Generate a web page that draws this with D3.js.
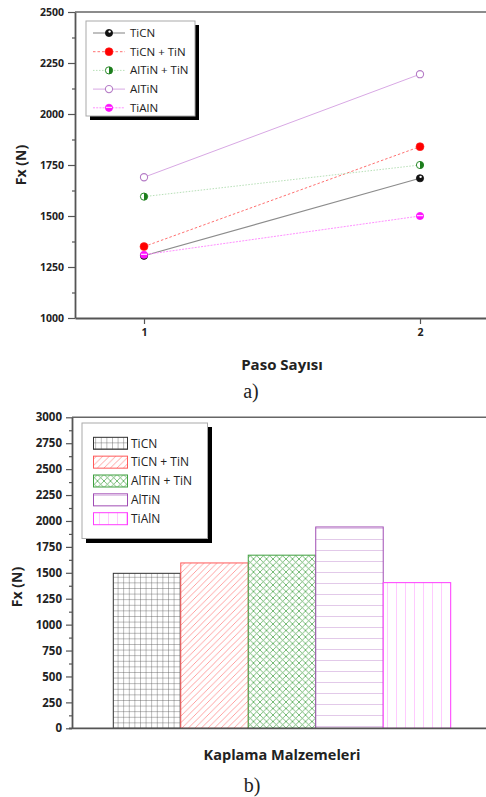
<!DOCTYPE html>
<html>
<head>
<meta charset="utf-8">
<script src="https://cdn.jsdelivr.net/npm/d3@7"></script>
<style>
  html, body { margin: 0; padding: 0; background: #fff; }
  svg { display: block; }
  text { font-family: "Open Sans", "Noto Sans", sans-serif; fill: #222; }
</style>
</head>
<body>
<svg id="fig" width="486" height="797"></svg>
<script>
// ---- data ----
const coatings = ["TiCN", "TiCN + TiN", "AlTiN + TiN", "AlTiN", "TiAlN"];
const passes = [1, 2];
const fxPass1 = [1305, 1350, 1595, 1690, 1310];
const fxPass2 = [1685, 1840, 1750, 2195, 1500];
const fxAverage = [1495, 1595, 1670, 1942, 1405];
const yTicksA = [1000, 1250, 1500, 1750, 2000, 2250, 2500];
const yTicksB = [0, 250, 500, 750, 1000, 1250, 1500, 1750, 2000, 2250, 2500, 2750, 3000];

// ---- styles ----
const lineStyle = [
  { stroke: "#8c8c8c", dash: null, width: 1.1 },
  { stroke: "#ff7070", dash: "2.5,2", width: 1 },
  { stroke: "#b8e0b8", dash: "1.5,1.5", width: 1 },
  { stroke: "#d8a8e4", dash: null, width: 1 },
  { stroke: "#ff90ff", dash: "2,1.2", width: 1 }
];
const barStyle = [
  { edge: "#333", ink: "#555", kind: "grid", step: 5.6 },
  { edge: "#ff5a5a", ink: "#ff8a8a", kind: "slash", step: 6.5 },
  { edge: "#3f9f3f", ink: "#55aa55", kind: "cross", step: 6.5 },
  { edge: "#a04cb4", ink: "#b878c8", kind: "hlines", step: 11 },
  { edge: "#ff3cff", ink: "#ff7cff", kind: "vlines", step: 9 }
];

const svg = d3.select("#fig");
const defs = svg.append("defs");

// hatch patterns for the bars
barStyle.forEach((s, i) => {
  const p = defs.append("pattern")
    .attr("id", "hatch" + i)
    .attr("patternUnits", "userSpaceOnUse")
    .attr("width", s.step).attr("height", s.step);
  p.append("rect").attr("width", s.step).attr("height", s.step).attr("fill", "#fff");
  const L = (x1, y1, x2, y2) => p.append("line")
    .attr("x1", x1).attr("y1", y1).attr("x2", x2).attr("y2", y2)
    .attr("stroke", s.ink).attr("stroke-width", 0.8);
  const k = s.step;
  if (s.kind === "grid") { L(0, 0, 0, k); L(0, 0, k, 0); }
  if (s.kind === "slash") { L(0, k, k, 0); L(-1, 1, 1, -1); L(k - 1, k + 1, k + 1, k - 1); }
  if (s.kind === "cross") { L(0, k, k, 0); L(0, 0, k, k); }
  if (s.kind === "hlines") { L(0, 0, k, 0); }
  if (s.kind === "vlines") { L(0, 0, 0, k); }
});

// ---------- chart a) : Fx versus number of passes ----------
const xA = d3.scaleLinear().domain([0.75, 2.25]).range([75, 489]);
const yA = d3.scaleLinear().domain([1000, 2500]).range([318, 12]);
const gA = svg.append("g");

// frame top line
gA.append("line").attr("x1", 75).attr("x2", 486).attr("y1", yA(2500)).attr("y2", yA(2500))
  .attr("stroke", "#666").attr("stroke-width", 1.5);

const minorA = d3.range(1125, 2500, 250);
const axL = gA.append("g").attr("transform", `translate(${xA(0.75)},0)`)
  .call(d3.axisLeft(yA).tickValues(yTicksA).tickSize(7).tickSizeOuter(0).tickPadding(4).tickFormat(d3.format("d")));
gA.append("g").attr("transform", `translate(${xA(0.75)},0)`)
  .call(d3.axisLeft(yA).tickValues(minorA).tickSize(3).tickSizeOuter(0).tickFormat(""))
  .select(".domain").remove();
const axB = gA.append("g").attr("transform", `translate(0,${yA(1000)})`)
  .call(d3.axisBottom(xA).tickValues(passes).tickSize(6).tickSizeOuter(0).tickPadding(5).tickFormat(d3.format("d")));

[axL, axB].forEach(a => {
  a.selectAll("text").attr("font-size", 10.5).attr("font-weight", 700).attr("fill", "#222");
});
gA.selectAll(".domain").attr("stroke", "#555").attr("stroke-width", 1.8);
gA.selectAll(".tick line").attr("stroke", "#555").attr("stroke-width", 1.2);

// marker glyphs for each series
function marker(g, i, cx, cy) {
  const r = 3.6;
  if (i === 0) {
    g.append("circle").attr("cx", cx).attr("cy", cy).attr("r", r).attr("fill", "#111").attr("stroke", "#111").attr("stroke-width", 0.8);
    g.append("circle").attr("cx", cx + 0.6).attr("cy", cy - 1.4).attr("r", 1.2).attr("fill", "#fff");
  } else if (i === 1) {
    g.append("circle").attr("cx", cx).attr("cy", cy).attr("r", r + 0.4).attr("fill", "#ff0000").attr("stroke", "#ff2020").attr("stroke-width", 0.6);
  } else if (i === 2) {
    g.append("circle").attr("cx", cx).attr("cy", cy).attr("r", r).attr("fill", "#fff").attr("stroke", "#2a8a2a").attr("stroke-width", 1);
    g.append("path").attr("d", `M${cx},${cy - r} A${r},${r} 0 0 1 ${cx},${cy + r} Z`).attr("fill", "#1d7d1d");
  } else if (i === 3) {
    g.append("circle").attr("cx", cx).attr("cy", cy).attr("r", r).attr("fill", "#fff").attr("stroke", "#b57cc6").attr("stroke-width", 1.1);
  } else {
    g.append("circle").attr("cx", cx).attr("cy", cy).attr("r", r).attr("fill", "#ff10ff").attr("stroke", "#ff10ff").attr("stroke-width", 0.8);
    g.append("line").attr("x1", cx - r + 0.6).attr("x2", cx + r - 0.6).attr("y1", cy - 0.4).attr("y2", cy - 0.4)
      .attr("stroke", "#ffd0ff").attr("stroke-width", 1.3);
  }
}

const lineGen = d3.line().x(d => xA(d[0])).y(d => yA(d[1]));
const seriesA = coatings.map((c, i) => [[passes[0], fxPass1[i]], [passes[1], fxPass2[i]]]);
seriesA.forEach((pts, i) => {
  const s = lineStyle[i];
  gA.append("path").attr("d", lineGen(pts)).attr("fill", "none")
    .attr("stroke", s.stroke).attr("stroke-width", s.width).attr("stroke-dasharray", s.dash);
});
[3, 2, 1, 0, 4].forEach(i => {
  seriesA[i].forEach(p => marker(gA, i, xA(p[0]), yA(p[1])));
});

// legend a)
const legA = gA.append("g");
legA.append("rect").attr("x", 90).attr("y", 25).attr("width", 109).attr("height", 95).attr("fill", "#000");
legA.append("rect").attr("x", 86).attr("y", 21).attr("width", 109).attr("height", 95).attr("fill", "#fff").attr("stroke", "#aaa").attr("stroke-width", 1);
coatings.forEach((c, i) => {
  const y = 33 + i * 18.7;
  const s = lineStyle[i];
  legA.append("line").attr("x1", 93).attr("x2", 125).attr("y1", y).attr("y2", y)
    .attr("stroke", s.stroke).attr("stroke-width", s.width).attr("stroke-dasharray", s.dash);
  marker(legA, i, 109, y);
  legA.append("text").attr("x", 130).attr("y", y).attr("dy", "0.35em").attr("font-size", 11.5).attr("fill", "#333").text(c);
});

// axis titles a)
gA.append("text").attr("transform", `translate(21,165) rotate(-90)`).attr("text-anchor", "middle")
  .attr("dy", "0.35em").attr("font-size", 14).attr("font-weight", 700).text("Fx (N)");
gA.append("text").attr("x", 282).attr("y", 370).attr("text-anchor", "middle")
  .attr("font-size", 15).attr("font-weight", 700).text("Paso Sayısı");
gA.append("text").attr("x", 251).attr("y", 398).attr("text-anchor", "middle")
  .attr("font-size", 20).style("font-family", "'Liberation Serif', 'DejaVu Serif', serif").attr("fill", "#111").text("a)");

// ---------- chart b) : mean Fx per coating ----------
const xB = d3.scaleBand().domain(coatings).range([113.3, 450.7]).padding(0);
const yB = d3.scaleLinear().domain([0, 3000]).range([728.3, 417.3]);
const gB = svg.append("g");

gB.append("line").attr("x1", 72).attr("x2", 486).attr("y1", yB(3000)).attr("y2", yB(3000))
  .attr("stroke", "#666").attr("stroke-width", 1.5);

gB.selectAll("rect.bar").data(coatings).join("rect").attr("class", "bar")
  .attr("x", d => xB(d)).attr("width", xB.bandwidth())
  .attr("y", (d, i) => yB(fxAverage[i])).attr("height", (d, i) => yB(0) - yB(fxAverage[i]))
  .attr("fill", (d, i) => `url(#hatch${i})`)
  .attr("stroke", (d, i) => barStyle[i].edge).attr("stroke-width", 1);

const minorB = d3.range(125, 3000, 250);
const axLB = gB.append("g").attr("transform", "translate(72,0)")
  .call(d3.axisLeft(yB).tickValues(yTicksB).tickSize(6).tickSizeOuter(0).tickPadding(4).tickFormat(d3.format("d")));
gB.append("g").attr("transform", "translate(72,0)")
  .call(d3.axisLeft(yB).tickValues(minorB).tickSize(3).tickSizeOuter(0).tickFormat(""))
  .select(".domain").remove();
gB.append("line").attr("x1", 69).attr("x2", 486).attr("y1", yB(0)).attr("y2", yB(0))
  .attr("stroke", "#555").attr("stroke-width", 1.8);
axLB.selectAll("text").attr("font-size", 11.5).attr("font-weight", 700).attr("fill", "#222");
gB.selectAll(".domain").attr("stroke", "#555").attr("stroke-width", 1.8);
gB.selectAll(".tick line").attr("stroke", "#555").attr("stroke-width", 1.2);

// legend b)
const legB = gB.append("g");
legB.append("rect").attr("x", 86).attr("y", 427).attr("width", 126).attr("height", 116).attr("fill", "#000");
legB.append("rect").attr("x", 82).attr("y", 423).attr("width", 125.5).attr("height", 115.5).attr("fill", "#fff").attr("stroke", "#aaa").attr("stroke-width", 1);
coatings.forEach((c, i) => {
  const y = 443.3 + i * 18.85;
  legB.append("rect").attr("x", 93.5).attr("y", y - 6).attr("width", 34).attr("height", 12)
    .attr("fill", `url(#hatch${i})`).attr("stroke", barStyle[i].edge).attr("stroke-width", 1);
  legB.append("text").attr("x", 131).attr("y", y).attr("dy", "0.35em").attr("font-size", 12).attr("fill", "#333").text(c);
});

gB.append("text").attr("transform", `translate(17,587) rotate(-90)`).attr("text-anchor", "middle")
  .attr("dy", "0.35em").attr("font-size", 14).attr("font-weight", 700).text("Fx (N)");
gB.append("text").attr("x", 282).attr("y", 760).attr("text-anchor", "middle")
  .attr("font-size", 14.5).attr("font-weight", 700).text("Kaplama Malzemeleri");
gB.append("text").attr("x", 252).attr("y", 792).attr("text-anchor", "middle")
  .attr("font-size", 20).style("font-family", "'Liberation Serif', 'DejaVu Serif', serif").attr("fill", "#111").text("b)");
</script>
</body>
</html>
